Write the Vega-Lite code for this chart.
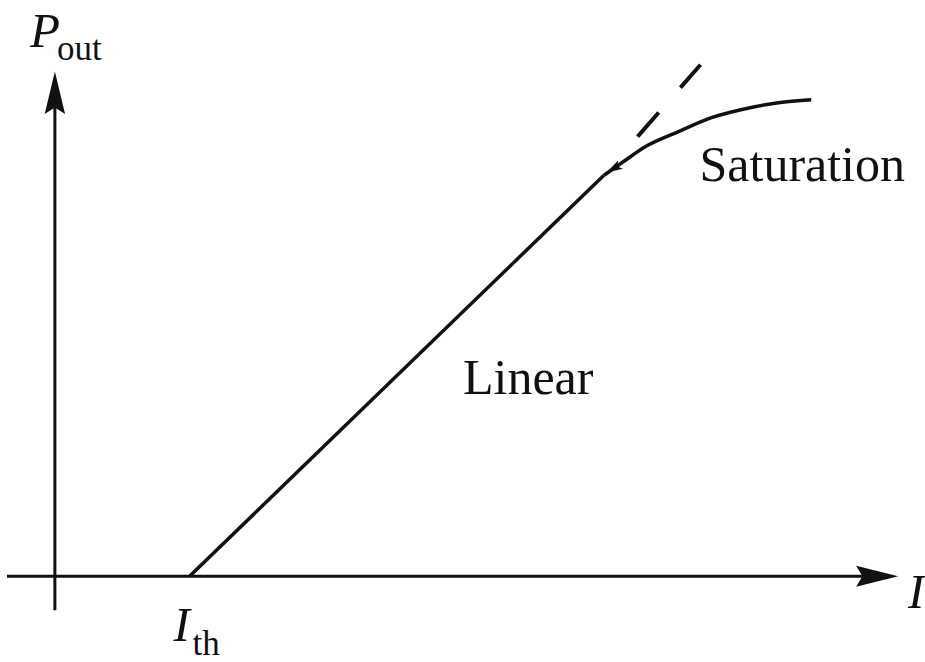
{
  "$schema": "https://vega.github.io/schema/vega-lite/v6.json",
  "width": 925,
  "height": 662,
  "autosize": {"type": "fit", "contains": "padding"},
  "padding": 0,
  "background": "white",
  "config": {"view": {"stroke": null}},
  "datasets": {
    "axes": [
      {"axis": "x", "x": -48, "y": 0},
      {"axis": "x", "x": 830, "y": 0},
      {"axis": "y", "x": 0, "y": -34},
      {"axis": "y", "x": 0, "y": 480}
    ],
    "xhead": [{"x": 824, "y": 0}],
    "yhead": [{"x": 0, "y": 485}],
    "linear": [{"x": 135, "y": 0}, {"x": 550, "y": 402}],
    "sat": [
      {"x": 550, "y": 402},
      {"x": 570, "y": 416},
      {"x": 592, "y": 431},
      {"x": 625, "y": 446},
      {"x": 658, "y": 460},
      {"x": 692, "y": 469},
      {"x": 725, "y": 475},
      {"x": 758, "y": 478}
    ],
    "dash": [{"x": 584, "y": 441}, {"x": 647, "y": 513}],
    "kink": [{"x": 560, "y": 409}],
    "italic": [
      {"label": "P", "x": -25, "y": 531},
      {"label": "I", "x": 855, "y": -32},
      {"label": "I", "x": 119, "y": -65}
    ],
    "subs": [
      {"label": "out", "x": 2, "y": 518},
      {"label": "th", "x": 138, "y": -79}
    ],
    "words": [
      {"label": "Linear", "x": 409, "y": 183},
      {"label": "Saturation", "x": 646, "y": 396}
    ]
  },
  "encoding": {
    "x": {"field": "x", "type": "quantitative", "scale": {"domain": [-55, 870]}, "axis": null},
    "y": {"field": "y", "type": "quantitative", "scale": {"domain": [-84, 578]}, "axis": null}
  },
  "layer": [
    {
      "data": {"name": "axes"},
      "mark": {"type": "line", "color": "#111", "strokeWidth": 3},
      "encoding": {"detail": {"field": "axis"}}
    },
    {
      "data": {"name": "xhead"},
      "mark": {"type": "point", "shape": "M1,0L-1,-0.5L-0.7,0L-1,0.5Z", "filled": true, "color": "#111", "opacity": 1, "size": 1764}
    },
    {
      "data": {"name": "yhead"},
      "mark": {"type": "point", "shape": "M0,-1L-0.48,1L0,0.7L0.48,1Z", "filled": true, "color": "#111", "opacity": 1, "size": 1800}
    },
    {
      "data": {"name": "linear"},
      "mark": {"type": "line", "color": "#111", "strokeWidth": 3.5}
    },
    {
      "data": {"name": "sat"},
      "mark": {"type": "line", "color": "#111", "strokeWidth": 3.5, "interpolate": "monotone"}
    },
    {
      "data": {"name": "dash"},
      "mark": {"type": "line", "color": "#111", "strokeWidth": 4, "strokeDash": [32, 33]}
    },
    {
      "data": {"name": "kink"},
      "mark": {"type": "point", "shape": "M1,0L-1,-0.6L-0.5,0L-1,0.6Z", "filled": true, "color": "#111", "opacity": 1, "size": 256, "angle": 150}
    },
    {
      "data": {"name": "italic"},
      "mark": {"type": "text", "font": "Liberation Serif", "fontStyle": "italic", "fontSize": 49, "align": "left", "baseline": "alphabetic", "color": "#111"},
      "encoding": {"text": {"field": "label"}}
    },
    {
      "data": {"name": "subs"},
      "mark": {"type": "text", "font": "Liberation Serif", "fontSize": 35, "align": "left", "baseline": "alphabetic", "color": "#111"},
      "encoding": {"text": {"field": "label"}}
    },
    {
      "data": {"name": "words"},
      "mark": {"type": "text", "font": "Liberation Serif", "fontSize": 50, "align": "left", "baseline": "alphabetic", "color": "#111"},
      "encoding": {"text": {"field": "label"}}
    }
  ]
}
